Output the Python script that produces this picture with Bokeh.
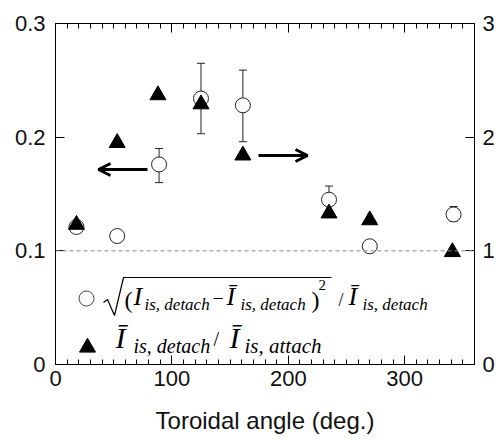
from bokeh.plotting import figure
from bokeh.models import (LinearAxis, Range1d, FixedTicker, Span, Whisker, ColumnDataSource,
                          Label, Arrow, OpenHead, CustomJSTickFormatter)
from bokeh.embed import file_html
from bokeh.resources import INLINE

# ---- data ----
angle_circ = [18, 53, 89, 125, 161, 235, 270, 342]
circ_val = [0.121, 0.113, 0.176, 0.234, 0.228, 0.145, 0.104, 0.132]
circ_err_lo = [0.117, 0.113, 0.160, 0.203, 0.196, 0.134, 0.104, 0.126]
circ_err_hi = [0.126, 0.113, 0.190, 0.265, 0.259, 0.157, 0.104, 0.139]

angle_tri = [18, 53, 88, 125, 161, 235, 270, 341]
tri_val = [1.23, 1.95, 2.37, 2.29, 1.84, 1.33, 1.27, 0.99]

x_ticks = [0, 100, 200, 300]
x_minor = list(range(0, 361, 10))
yl_ticks = [0, 0.1, 0.2, 0.3]
yr_ticks = [0, 1, 2, 3]
ref_level = 0.1

# ---- layout (pixels) ----
W, H = 503, 440
FL, FR, FT, FB = 55, 474, 23, 364
XMAX, YMAX, YRMAX = 360, 0.3, 3.0

def dx(px):
    return (px - FL) / (FR - FL) * XMAX

def dy(py):
    return (FB - py) / (FB - FT) * YMAX

SANS = "Liberation Sans"
SERIF = "Liberation Serif"

p = figure(width=W, height=H, x_range=Range1d(0, XMAX), y_range=Range1d(0, YMAX),
           output_backend="svg", toolbar_location=None,
           min_border_left=FL, min_border_right=W - FR, min_border_top=FT,
           min_border_bottom=H - FB, x_axis_location="below")
p.extra_y_ranges = {"right": Range1d(0, YRMAX)}
p.grid.visible = False
p.outline_line_color = "black"
p.outline_line_width = 1
p.background_fill_color = "white"
p.border_fill_color = "white"

xt = FixedTicker(ticks=x_ticks, minor_ticks=x_minor)

def style_axis(ax, fs="22px"):
    ax.axis_line_color = "black"
    ax.major_tick_line_color = "black"
    ax.minor_tick_line_color = "black"
    ax.major_tick_in = 9
    ax.major_tick_out = 0
    ax.minor_tick_in = 5
    ax.minor_tick_out = 0
    ax.major_label_text_font = SANS
    ax.major_label_text_font_size = fs
    ax.major_label_text_color = "#111111"

xa = p.xaxis[0]
xa.ticker = xt
style_axis(xa)
xa.major_label_standoff = 6
xa.axis_label = "Toroidal angle (deg.)"
xa.axis_label_text_font = SANS
xa.axis_label_text_font_style = "normal"
xa.axis_label_text_font_size = "24px"
xa.axis_label_text_color = "#111111"
xa.axis_label_standoff = 18

ya = p.yaxis[0]
ya.ticker = FixedTicker(ticks=yl_ticks, minor_ticks=[])
ya.formatter = CustomJSTickFormatter(code="return tick == 0 ? '0' : tick.toFixed(1);")
style_axis(ya)
ya.major_label_standoff = 10

top = LinearAxis(ticker=xt, formatter=CustomJSTickFormatter(code="return '';"))
style_axis(top)
p.add_layout(top, "above")

ra = LinearAxis(y_range_name="right", ticker=FixedTicker(ticks=yr_ticks, minor_ticks=[]))
style_axis(ra)
ra.major_label_standoff = 8
p.add_layout(ra, "right")

# reference dashed line
p.add_layout(Span(location=ref_level, dimension="width", line_color="#8a8a8a",
                  line_dash="4 3", line_width=1))

# error bars
eb = [(a, lo, hi) for a, lo, hi in zip(angle_circ, circ_err_lo, circ_err_hi) if hi > lo]
esrc = ColumnDataSource(dict(x=[e[0] for e in eb], lo=[e[1] for e in eb], hi=[e[2] for e in eb]))
wh = Whisker(source=esrc, base="x", lower="lo", upper="hi", line_color="#222222", line_width=1)
wh.upper_head.size = 8
wh.lower_head.size = 8
wh.upper_head.line_color = "#222222"
wh.lower_head.line_color = "#222222"
p.add_layout(wh)

# circles (left axis)
p.scatter(angle_circ, circ_val, marker="circle", size=15, fill_color="white",
          line_color="#222222", line_width=1)
# triangles (right axis)
p.scatter(angle_tri, tri_val, marker="triangle", size=16, fill_color="black",
          line_color="black", y_range_name="right")

# arrows
p.add_layout(Arrow(x_start=dx(147), y_start=dy(169), x_end=dx(98), y_end=dy(169),
                   line_width=3, line_color="black",
                   end=OpenHead(size=12, line_width=3, line_color="black")))
p.add_layout(Arrow(x_start=dx(258), y_start=dy(155), x_end=dx(307), y_end=dy(155),
                   line_width=3, line_color="black",
                   end=OpenHead(size=12, line_width=3, line_color="black")))

# ---- legend (hand-built) ----
p.scatter([dx(86)], [dy(298)], marker="circle", size=15, fill_color="white",
          line_color="#444444", line_width=1)
p.scatter([dx(87)], [dy(347)], marker="triangle", size=16, fill_color="black",
          line_color="black")

# radical sign + overline
p.line([dx(103), dx(107), dx(114), dx(123), dx(331)],
       [dy(302), dy(299), dy(315), dy(277), dy(277)], line_color="black", line_width=1.2)

def lab(px, py, text, size, italic=True):
    off = 0.37 * size
    p.add_layout(Label(x=dx(px), y=dy(py - off), text=text, text_font=SERIF,
                       text_font_style="italic" if italic else "normal",
                       text_font_size=f"{size}px", text_color="black",
                       text_baseline="alphabetic", text_align="left"))

# line 1
lab(124, 308, "(", 24, italic=False)
lab(133, 306, "I", 26)
lab(144, 310, "is, detach", 17)
lab(212, 305, "\u2212", 20, italic=False)
lab(226, 306, "\u012a", 26)
lab(240, 310, "is, detach", 17)
lab(311, 308, ")", 24, italic=False)
lab(318, 290, "2", 15, italic=False)
lab(338, 306, "/", 18, italic=False)
lab(348, 306, "\u012a", 26)
lab(362, 310, "is, detach", 17)

# line 2
lab(115, 348, "\u012a", 30)
lab(133, 353, "is, detach", 20)
lab(213, 346, "/", 20, italic=False)
lab(229, 348, "\u012a", 30)
lab(244, 353, "is, attach", 21)

open("out.html", "w").write(file_html(p, INLINE))
